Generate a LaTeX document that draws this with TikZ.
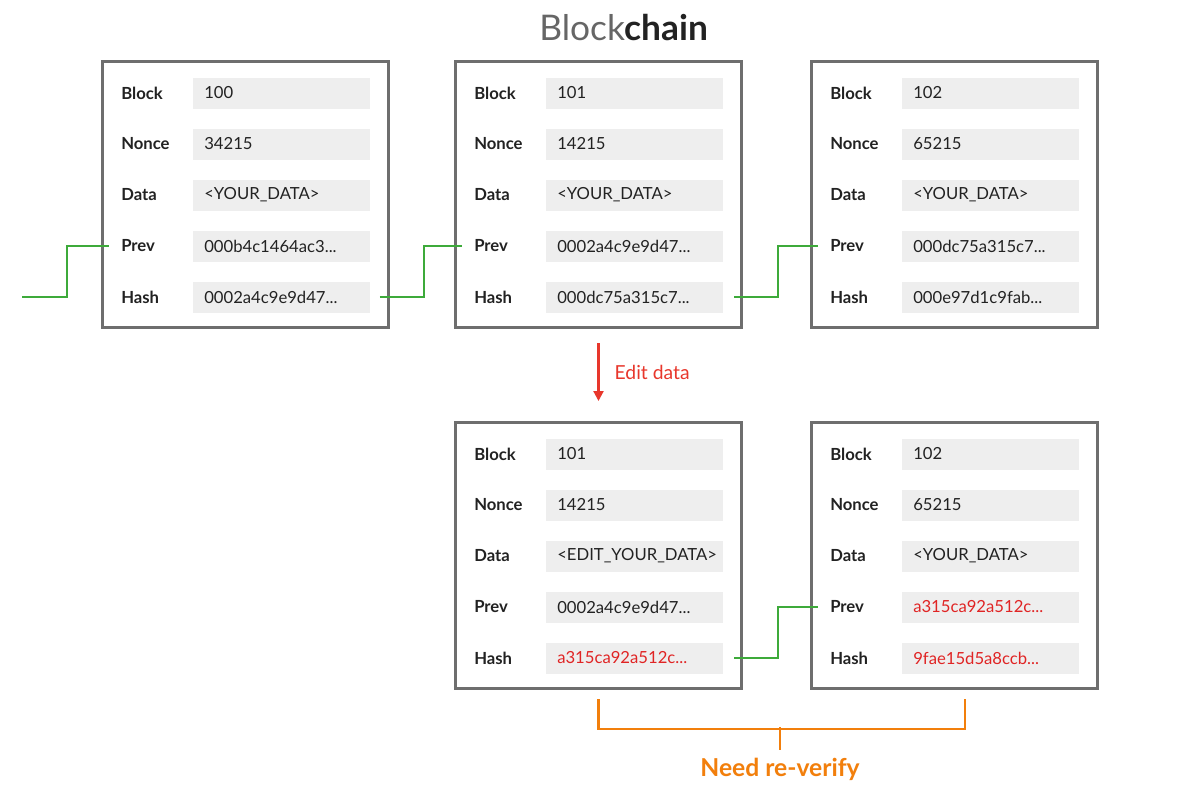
\documentclass[tikz,border=0pt]{standalone}
\usepackage{fontspec}
\setmainfont{Lato}
\usetikzlibrary{arrows.meta}
\definecolor{framegray}{HTML}{6E6E6E}
\definecolor{fieldgray}{HTML}{EEEEEE}
\definecolor{linkgreen}{HTML}{3DAA3A}
\definecolor{editred}{HTML}{E8372C}
\definecolor{hashred}{HTML}{E02424}
\definecolor{verifyorange}{HTML}{F27F0C}
\definecolor{ink}{HTML}{222222}
\definecolor{titlegray}{HTML}{666666}
\tikzset{
  blockframe/.style={draw=framegray, line width=2.25pt, minimum width=214.5pt, minimum height=199.5pt, inner sep=0pt, anchor=north west},
  rowlabel/.style={anchor=west, inner sep=0pt, text=ink, font=\fontsize{12.5}{14}\selectfont\bfseries},
  fieldbox/.style={anchor=west, fill=fieldgray, text=ink, minimum height=23.25pt, inner ysep=0pt, inner xsep=8.25pt, text width=116.25pt, align=left, font=\fontsize{12.5}{14}\selectfont},
  link/.style={draw=linkgreen, line width=1.6pt},
  editarrow/.style={draw=editred, line width=1.6pt, -{Triangle[width=7.5pt,length=7.5pt]}},
  bracket/.style={draw=verifyorange, line width=1.6pt},
}
\newcommand{\chainrow}[4]{%
  \node[rowlabel] (#1-l#2) at ([shift={(20,#2*51-18)}]#1.north west) {#3};
  \node[fieldbox] (#1-f#2) at ([shift={(92,#2*51-18)}]#1.north west) {#4};
}
\newcommand{\chainblock}[8]{%
  \node[blockframe] (#1) at (#2,#3) {};
  \chainrow{#1}{1}{Block}{#4}
  \chainrow{#1}{2}{Nonce}{#5}
  \chainrow{#1}{3}{Data}{#6}
  \chainrow{#1}{4}{Prev}{#7}
  \chainrow{#1}{5}{Hash}{#8}
}
\begin{document}
\begin{tikzpicture}[x=0.75pt,y=-0.75pt]
\useasboundingbox[fill=white] (0,0) rectangle (1200,800);

\node[font=\fontsize{26.5}{30}\selectfont] (title) at (624,28) {\textcolor{titlegray}{Block}\textcolor{ink}{\bfseries chain}};

\chainblock{b1}{101}{60}{100}{34215}{<YOUR\_DATA>}{000b4c1464ac3...}{0002a4c9e9d47...}
\chainblock{b2}{454}{60}{101}{14215}{<YOUR\_DATA>}{0002a4c9e9d47...}{000dc75a315c7...}
\chainblock{b3}{810}{60}{102}{65215}{<YOUR\_DATA>}{000dc75a315c7...}{000e97d1c9fab...}
\chainblock{b4}{454}{421}{101}{14215}{<EDIT\_YOUR\_DATA>}{0002a4c9e9d47...}{\textcolor{hashred}{a315ca92a512c...}}
\chainblock{b5}{810}{421}{102}{65215}{<YOUR\_DATA>}{\textcolor{hashred}{a315ca92a512c...}}{\textcolor{hashred}{9fae15d5a8ccb...}}

\coordinate (start) at (22,297);
\draw[link] (start) -- ++(45,0) |- ([xshift=-9pt]b1-l4.west);
\draw[link] ([xshift=7pt]b1-f5.east) -- ++(44,0) |- ([xshift=-9pt]b2-l4.west);
\draw[link] ([xshift=8pt]b2-f5.east) -- ++(44,0) |- ([xshift=-9pt]b3-l4.west);
\draw[link] ([xshift=8pt]b4-f5.east) -- ++(44,0) |- ([xshift=-9pt]b5-l4.west);

\draw[editarrow] ([yshift=-10.5pt]b2.south) -- ([yshift=15pt]b4.north)
  node[midway, anchor=west, xshift=8pt, text=editred, font=\fontsize{14.5}{16}\selectfont] (edit) {Edit data};

\coordinate (bl) at ([yshift=-7pt]b4.south);
\coordinate (br) at ([xshift=8pt,yshift=-7pt]b5.south);
\draw[bracket] (bl) -- ++(0,30) -| (br);
\coordinate (stem) at (780,727);
\draw[bracket] (stem) -- ++(0,23) node[below=2pt, text=verifyorange, font=\fontsize{18.5}{21}\selectfont\bfseries] (verify) {Need re-verify};
\end{tikzpicture}
\end{document}
